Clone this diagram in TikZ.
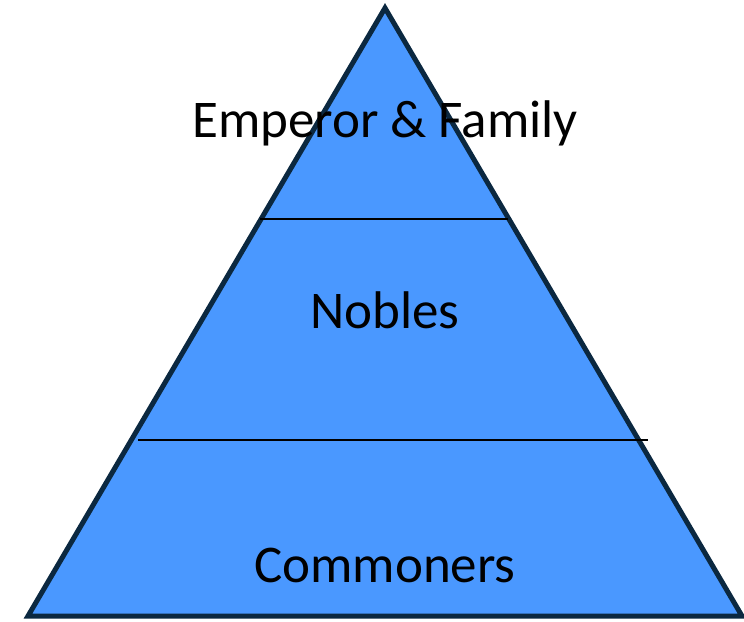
\documentclass[tikz,border=0pt]{standalone}
\usepackage{fontspec}
\setmainfont{Carlito}
\usepackage{xcolor}
\definecolor{tierblue}{HTML}{4A98FF}
\definecolor{tieredge}{HTML}{0B2840}
\usetikzlibrary{calc}

\begin{document}
\begin{tikzpicture}[x=1pt,y=-1pt,
                    tier label/.style={anchor=base,font=\fontsize{53}{60}\selectfont},
                    divider/.style={draw=black,line width=1.6pt}]

  \useasboundingbox (0,0) rectangle (744,621);

  \coordinate (apex) at (385,8);
  \coordinate (left) at (28,616);
  \coordinate (right) at (742,616);

  \filldraw[fill=tierblue,draw=tieredge,line width=5pt,line join=miter]
    (apex) -- (left) -- (right) -- cycle;

  \coordinate (d1l) at (260,219);
  \coordinate (d1r) at (508,219);
  \coordinate (d2l) at (138,440);
  \coordinate (d2r) at (648,440);

  \path[divider] (d1l) -- (d1r);
  \path[divider] (d2l) -- (d2r);

  \node[tier label] (emperor) at (385,137) {Emperor \& Family};
  \node[tier label] (nobles) at (385,328) {Nobles};
  \node[tier label] (commoners) at (385,582) {Commoners};

\end{tikzpicture}
\end{document}
